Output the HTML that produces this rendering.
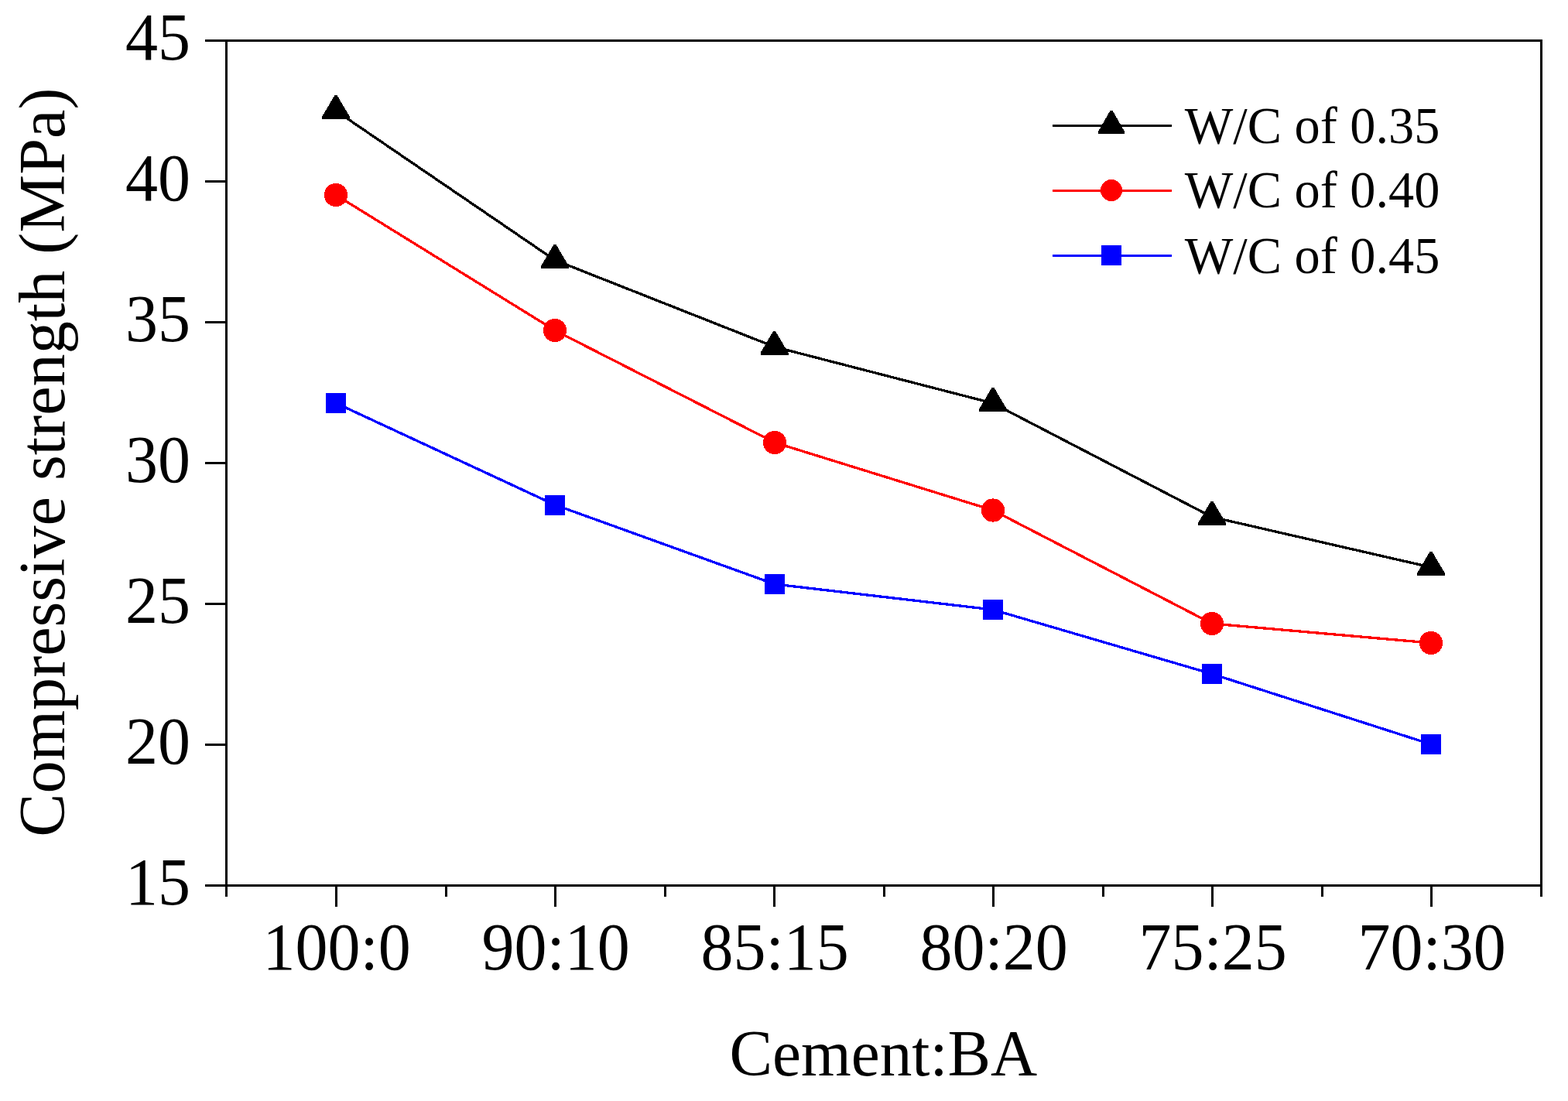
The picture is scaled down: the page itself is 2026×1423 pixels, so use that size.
<!DOCTYPE html>
<html lang="en">
<head>
<meta charset="utf-8">
<title>Compressive strength vs Cement:BA</title>
<style>
html,body{margin:0;padding:0;background:#fff;}
body{width:2026px;height:1423px;overflow:hidden;}
svg{display:block;}
text{font-family:"Liberation Serif",serif;fill:#000;}
.tk{font-size:84px;}
.lg{font-size:68.3px;}
</style>
</head>
<body>
<svg width="2026" height="1423" viewBox="0 0 2026 1423" role="img" aria-label="Compressive strength (MPa) versus Cement:BA ratio for three water/cement ratios">
<rect x="0" y="0" width="2026" height="1423" fill="#ffffff"/>

<g stroke="#000" stroke-width="3" fill="none" stroke-linecap="butt" shape-rendering="crispEdges">
<rect x="292.5" y="52.5" width="1699.0" height="1092.0"/>
<line x1="265" y1="1144.50" x2="292.5" y2="1144.50"/>
<line x1="265" y1="962.50" x2="292.5" y2="962.50"/>
<line x1="265" y1="780.50" x2="292.5" y2="780.50"/>
<line x1="265" y1="598.50" x2="292.5" y2="598.50"/>
<line x1="265" y1="416.50" x2="292.5" y2="416.50"/>
<line x1="265" y1="234.50" x2="292.5" y2="234.50"/>
<line x1="265" y1="52.50" x2="292.5" y2="52.50"/>
<line x1="434.50" y1="1144.5" x2="434.50" y2="1172"/>
<line x1="717.50" y1="1144.5" x2="717.50" y2="1172"/>
<line x1="1000.50" y1="1144.5" x2="1000.50" y2="1172"/>
<line x1="1283.50" y1="1144.5" x2="1283.50" y2="1172"/>
<line x1="1566.50" y1="1144.5" x2="1566.50" y2="1172"/>
<line x1="1849.50" y1="1144.5" x2="1849.50" y2="1172"/>
<line x1="292.50" y1="1144.5" x2="292.50" y2="1159"/>
<line x1="576.00" y1="1144.5" x2="576.00" y2="1159"/>
<line x1="859.00" y1="1144.5" x2="859.00" y2="1159"/>
<line x1="1142.00" y1="1144.5" x2="1142.00" y2="1159"/>
<line x1="1425.00" y1="1144.5" x2="1425.00" y2="1159"/>
<line x1="1708.00" y1="1144.5" x2="1708.00" y2="1159"/>
<line x1="1991.50" y1="1144.5" x2="1991.50" y2="1159"/>
</g>
<text class="tk" transform="translate(246,1168.90) scale(1,1.022)" text-anchor="end">15</text>
<text class="tk" transform="translate(246,986.90) scale(1,1.022)" text-anchor="end">20</text>
<text class="tk" transform="translate(246,804.90) scale(1,1.022)" text-anchor="end">25</text>
<text class="tk" transform="translate(246,622.90) scale(1,1.022)" text-anchor="end">30</text>
<text class="tk" transform="translate(246,440.90) scale(1,1.022)" text-anchor="end">35</text>
<text class="tk" transform="translate(246,258.90) scale(1,1.022)" text-anchor="end">40</text>
<text class="tk" transform="translate(246,76.90) scale(1,1.022)" text-anchor="end">45</text>
<text class="tk" transform="translate(435.20,1252.8) scale(1,1.022)" text-anchor="middle">100:0</text>
<text class="tk" transform="translate(718.20,1252.8) scale(1,1.022)" text-anchor="middle">90:10</text>
<text class="tk" transform="translate(1001.20,1252.8) scale(1,1.022)" text-anchor="middle">85:15</text>
<text class="tk" transform="translate(1284.20,1252.8) scale(1,1.022)" text-anchor="middle">80:20</text>
<text class="tk" transform="translate(1567.20,1252.8) scale(1,1.022)" text-anchor="middle">75:25</text>
<text class="tk" transform="translate(1850.20,1252.8) scale(1,1.022)" text-anchor="middle">70:30</text>
<text class="tk" transform="translate(1141.3,1389.8) scale(0.9915,1)" text-anchor="middle">Cement:BA</text>
<text class="tk" transform="translate(83,597.6) rotate(-90) scale(1.0024,1)" text-anchor="middle">Compressive strength (MPa)</text>
<g shape-rendering="crispEdges">
<polyline points="434.00,143.20 717.00,336.20 1000.50,448.20 1283.00,521.20 1566.00,668.20 1849.00,733.20" fill="none" stroke="#000000" stroke-width="3.3" stroke-linejoin="round"/>
<polygon points="432.50,123.00 435.50,123.00 452.00,151.00 452.00,154.00 416.00,154.00 416.00,151.00" fill="#000000"/>
<polygon points="715.50,316.00 718.50,316.00 735.00,344.00 735.00,347.00 699.00,347.00 699.00,344.00" fill="#000000"/>
<polygon points="999.00,428.00 1002.00,428.00 1018.50,456.00 1018.50,459.00 982.50,459.00 982.50,456.00" fill="#000000"/>
<polygon points="1281.50,501.00 1284.50,501.00 1301.00,529.00 1301.00,532.00 1265.00,532.00 1265.00,529.00" fill="#000000"/>
<polygon points="1564.50,648.00 1567.50,648.00 1584.00,676.00 1584.00,679.00 1548.00,679.00 1548.00,676.00" fill="#000000"/>
<polygon points="1847.50,713.00 1850.50,713.00 1867.00,741.00 1867.00,744.00 1831.00,744.00 1831.00,741.00" fill="#000000"/>
<polyline points="434.00,252.00 717.00,427.00 1001.00,572.00 1283.00,659.50 1566.00,806.00 1849.00,831.00" fill="none" stroke="#ff0000" stroke-width="3.3" stroke-linejoin="round"/>
<circle cx="434" cy="252" r="15.1" fill="#ff0000"/>
<circle cx="717" cy="427" r="15.1" fill="#ff0000"/>
<circle cx="1001" cy="572" r="15.1" fill="#ff0000"/>
<circle cx="1283" cy="659.5" r="15.1" fill="#ff0000"/>
<circle cx="1566" cy="806" r="15.1" fill="#ff0000"/>
<circle cx="1849" cy="831" r="15.1" fill="#ff0000"/>
<polyline points="434.00,521.00 717.00,652.50 1001.00,755.00 1283.00,788.00 1566.00,871.00 1849.00,962.00" fill="none" stroke="#0000ff" stroke-width="3.3" stroke-linejoin="round"/>
<rect x="421" y="508" width="26" height="26" fill="#0000ff"/>
<rect x="704" y="639.5" width="26" height="26" fill="#0000ff"/>
<rect x="988" y="742" width="26" height="26" fill="#0000ff"/>
<rect x="1270" y="775" width="26" height="26" fill="#0000ff"/>
<rect x="1553" y="858" width="26" height="26" fill="#0000ff"/>
<rect x="1836" y="949" width="26" height="26" fill="#0000ff"/>
<line x1="1360" y1="162.5" x2="1514" y2="162.5" stroke="#000000" stroke-width="3"/>
<polygon points="1434.50,143.00 1437.50,143.00 1453.00,170.00 1453.00,173.00 1419.00,173.00 1419.00,170.00" fill="#000000"/>
<line x1="1360" y1="246.5" x2="1514" y2="246.5" stroke="#ff0000" stroke-width="3"/>
<circle cx="1436.00" cy="246.00" r="14.0" fill="#ff0000"/>
<line x1="1360" y1="330.5" x2="1514" y2="330.5" stroke="#0000ff" stroke-width="3"/>
<rect x="1423.00" y="317.00" width="26.0" height="26.0" fill="#0000ff"/>
</g>
<text class="lg" transform="translate(1530.8,184.6) scale(0.9708,1)">W/C of 0.35</text>
<text class="lg" transform="translate(1530.8,268.4) scale(0.9708,1)">W/C of 0.40</text>
<text class="lg" transform="translate(1530.8,353.4) scale(0.9708,1)">W/C of 0.45</text>
</svg>
</body>
</html>
